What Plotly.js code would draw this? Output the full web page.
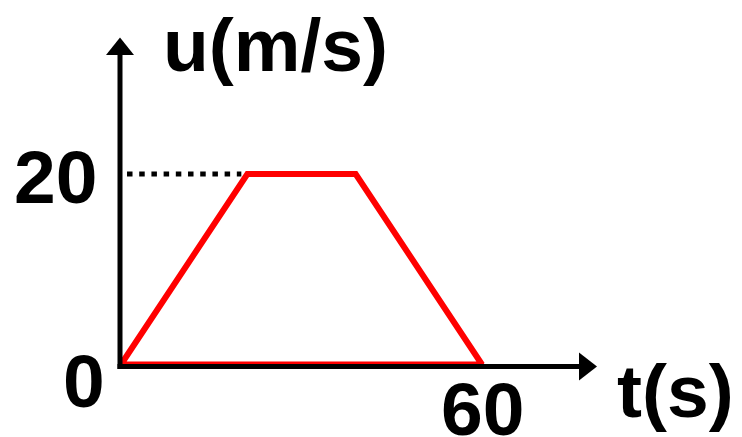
<!DOCTYPE html>
<html><head><meta charset="utf-8">
<script src="https://cdn.plot.ly/plotly-3.0.1.min.js"></script>
<style>html,body{margin:0;padding:0;background:#fff;}</style>
</head><body><div id="chart" style="width:742px;height:437px;"></div>
<script>
// Data (speed-time graph)
const timeS = [0, 21, 39, 60, 0];
const speedMS = [0, 20, 20, 0, 0];
// dotted guide at u = 20
const guideT = [1, 20];
const guideU = [20, 20];
// labels
const xTickVals = [60];
const xTickText = ['60'];
const yTickVals = [20];
const yTickText = ['20'];
const originText = '0';
const yTitle = 'u(m/s)';
const xTitle = 't(s)';

const W = 742, H = 437;
const px = p => p / W;
const py = p => 1 - p / H;
const path = pts => 'M ' + pts.map(([a, b]) => px(a) + ' ' + py(b)).join(' L ') + ' Z';

const FONT = {family: 'Liberation Sans, Arial, sans-serif', size: 75, color: '#000', weight: 700};

const traces = [
  {x: guideT, y: guideU, mode: 'lines', line: {color: '#000', width: 5, dash: '5.5px,6.7px'}, hoverinfo: 'skip'},
  {x: timeS, y: speedMS, mode: 'lines', line: {color: '#ff0000', width: 6}, hoverinfo: 'skip'}
];

const annotations = [];
xTickVals.forEach((v, i) => annotations.push({x: v, y: 0, xref: 'x', yref: 'y', text: xTickText[i],
  showarrow: false, xanchor: 'center', yanchor: 'top', yshift: -1.5, borderpad: 0, font: FONT}));
yTickVals.forEach((v, i) => annotations.push({x: 0, y: v, xref: 'x', yref: 'y', text: yTickText[i],
  showarrow: false, xanchor: 'right', yanchor: 'middle', xshift: -23, yshift: -3, borderpad: 0, font: FONT}));
annotations.push({x: 0, y: 0, xref: 'x', yref: 'y', text: originText, showarrow: false,
  xanchor: 'right', yanchor: 'middle', xshift: -15, yshift: -16.5, borderpad: 0, font: FONT});
annotations.push({x: px(275), y: py(2), xref: 'paper', yref: 'paper', text: yTitle, showarrow: false,
  xanchor: 'center', yanchor: 'top', borderpad: 0, font: FONT});
annotations.push({x: px(675.5), y: py(348), xref: 'paper', yref: 'paper', text: xTitle, showarrow: false,
  xanchor: 'center', yanchor: 'top', borderpad: 0, font: FONT});

const shapes = [
  {type: 'line', xref: 'paper', yref: 'paper', x0: px(120), x1: px(120), y0: py(369), y1: py(54), line: {color: '#000', width: 5}},
  {type: 'path', xref: 'paper', yref: 'paper', path: path([[106, 55], [120, 37.5], [134, 55]]), fillcolor: '#000', line: {width: 0}},
  {type: 'line', xref: 'paper', yref: 'paper', x0: px(117.5), x1: px(580), y0: py(366.5), y1: py(366.5), line: {color: '#000', width: 5}},
  {type: 'path', xref: 'paper', yref: 'paper', path: path([[579, 352.5], [597, 366.5], [579, 380.5]]), fillcolor: '#000', line: {width: 0}}
];

// axis mapping: t=0 -> 121px, t=60 -> 482px ; u=0 -> 364.5px, u=20 -> 174px
const sx = (482 - 121) / 60;
const sy = (364.5 - 174) / 20;
const layout = {
  width: W, height: H, autosize: false,
  margin: {l: 0, r: 0, t: 0, b: 0, pad: 0},
  paper_bgcolor: '#fff', plot_bgcolor: '#fff',
  showlegend: false,
  xaxis: {range: [-121 / sx, (W - 121) / sx], visible: false, fixedrange: true},
  yaxis: {range: [(364.5 - H) / sy, 364.5 / sy], visible: false, fixedrange: true},
  shapes: shapes,
  annotations: annotations
};
Plotly.newPlot('chart', traces, layout, {staticPlot: true, displayModeBar: false});
</script>
</body></html>
